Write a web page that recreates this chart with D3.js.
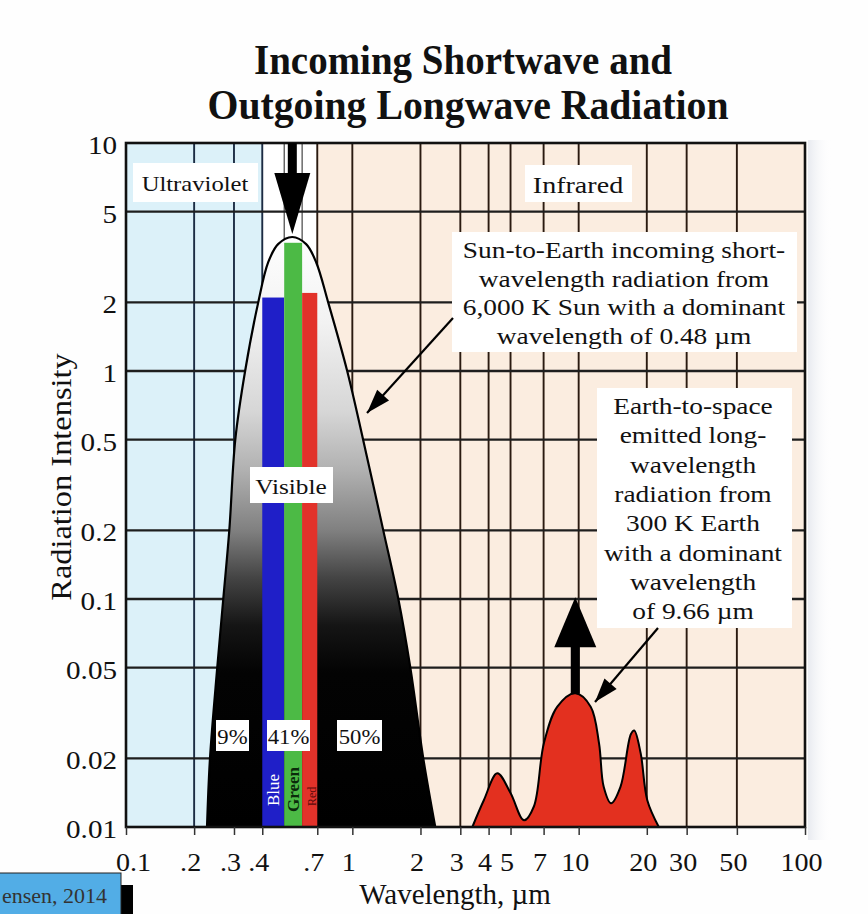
<!DOCTYPE html>
<html><head><meta charset="utf-8">
<script src="https://cdn.jsdelivr.net/npm/d3@7"></script>
<style>html,body{margin:0;padding:0;background:#fff;}svg{display:block;font-family:"Liberation Serif","Times New Roman",serif;}</style>
</head><body>
<script>
// ---- data ----
const lambdaTicks = [0.1,0.2,0.3,0.4,0.7,1,2,3,4,5,7,10,20,30,50,100];
const lambdaTickLabels = ["0.1",".2",".3",".4",".7","1","2","3","4","5","7","10","20","30","50","100"];
const gridLambda = [0.2,0.3,0.4,0.5,0.6,0.7,1,2,3,4,5,7,10,20,30,50];
const intensityTicks = [10,5,2,1,0.5,0.2,0.1,0.05,0.02,0.01];
const intensityLabels = ["10","5","2","1","0.5","0.2","0.1","0.05","0.02","0.01"];
const gridIntensity = [5,2,1,0.5,0.2,0.1,0.05,0.02];
const regionBounds = [0.1,0.4,0.7,100]; // ultraviolet | visible | infrared
const sunLambda    = [0.228,0.235,0.253,0.269,0.286,0.304,0.336,0.384,0.425,0.470,0.543,0.625,0.692,0.782,0.949,1.116,1.370,1.597,1.804,2.058,2.325];
const sunIntensity = [0.01,0.02,0.05,0.1,0.2,0.5,1,2,3,3.6,3.87,3.6,3,2,1,0.5,0.2,0.1,0.05,0.02,0.01];
const earthLambda    = [3.39,3.81,4.37,5.0,5.73,6.34,7.02,8.05,9.66,11.3,12.3,12.9,13.9,15.3,17.0,17.6,18.8,20.1,22.6];
const earthIntensity = [0.01,0.0131,0.0172,0.0141,0.0107,0.0123,0.0233,0.0337,0.0386,0.0337,0.0233,0.015,0.0127,0.015,0.0255,0.0265,0.021,0.0131,0.01];
const bandNames = ["Blue","Green","Red"];
const bandStart = [0.4,0.5,0.6];
const bandEnd   = [0.5,0.6,0.7];
const bandTop   = [2.1,3.65,2.2];
const bandShares = ["9%","41%","50%"];
const sunPeak = 0.543, earthPeak = 9.66;

// ---- drawing ----
const W = 868, H = 914;
const svg = d3.select("body").append("svg").attr("width", W).attr("height", H);
svg.append("rect").attr("width", W).attr("height", H).attr("fill", "#fefefe");

const x = d3.scaleLog().domain([0.1,100]).range([126,805]);
const y = d3.scaleLog().domain([0.01,10]).range([827,143]);

const defs = svg.append("defs");
const g1 = defs.append("linearGradient").attr("id","sunGrad").attr("gradientUnits","userSpaceOnUse")
  .attr("x1",0).attr("x2",0).attr("y1",y(4)).attr("y2",y(0.01));
[[0,"#ffffff"],[0.15,"#f2f2f2"],[0.3,"#d6d6d6"],[0.4,"#b0b0b0"],[0.5,"#808080"],[0.58,"#444"],[0.66,"#151515"],[0.74,"#030303"],[1,"#000"]]
  .forEach(([o,c]) => g1.append("stop").attr("offset",o).attr("stop-color",c));
const sg = defs.append("linearGradient").attr("id","shadow").attr("x1",0).attr("x2",1);
sg.append("stop").attr("offset",0).attr("stop-color","#e2e5ec").attr("stop-opacity",0.8);
sg.append("stop").attr("offset",1).attr("stop-color","#ffffff").attr("stop-opacity",0);
svg.append("rect").attr("x",808).attr("y",140).attr("width",24).attr("height",700).attr("fill","url(#shadow)");

// background regions
const regionColors = ["#dcf1f9","#ffffff","#fbede0"];
for (let i=0;i<regionBounds.length-1;i++){
  svg.append("rect").attr("x",x(regionBounds[i])).attr("y",y(10))
    .attr("width",x(regionBounds[i+1])-x(regionBounds[i])).attr("height",y(0.01)-y(10))
    .attr("fill",regionColors[i]);
}

// grid
const grid = svg.append("g");
grid.selectAll("line.v").data(gridLambda).join("line")
  .attr("x1",d=>x(d)).attr("x2",d=>x(d)).attr("y1",y(10)).attr("y2",y(0.01))
  .attr("stroke",d=> d<=0.4 ? "#1c2c44" : (d<0.7 ? "#333" : "#2a1a10"))
  .attr("stroke-width",d=> (d===0.5||d===0.6)?1.1:1.9);
grid.selectAll("line.h").data(gridIntensity).join("line")
  .attr("x1",x(0.1)).attr("x2",x(100)).attr("y1",d=>y(d)).attr("y2",d=>y(d))
  .attr("stroke","#1e1e1e").attr("stroke-width",2.4);

function box(x0,y0,x1,y1){ svg.append("rect").attr("x",x0).attr("y",y0).attr("width",x1-x0).attr("height",y1-y0).attr("fill","#fff"); }
box(133,163,258,202);
box(525,165,632,202);
box(452,232,797,352);
box(597,388,792,628);

// sun curve
const sunPts = sunLambda.map((l,i)=>[l,sunIntensity[i]]);
const curveS = d3.curveCatmullRom.alpha(0.5);
const area = d3.area().x(d=>x(d[0])).y0(y(0.01)).y1(d=>y(d[1])).curve(curveS);
const line = d3.line().x(d=>x(d[0])).y(d=>y(d[1])).curve(curveS);
svg.append("path").datum(sunPts).attr("d",area).attr("fill","url(#sunGrad)");

// visible bands
const bandColors = ["#1f1fc8","#4cba45","#e2322a"];
svg.selectAll("rect.band").data(bandNames).join("rect")
  .attr("x",(d,i)=>x(bandStart[i])).attr("width",(d,i)=>x(bandEnd[i])-x(bandStart[i]))
  .attr("y",(d,i)=>y(bandTop[i])).attr("height",(d,i)=>y(0.01)-y(bandTop[i]))
  .attr("fill",(d,i)=>bandColors[i]);
svg.append("path").datum(sunPts).attr("d",line).attr("fill","none").attr("stroke","#000").attr("stroke-width",2.2);

// band names (rotated)
const bandTextColors = ["#ffffff","#0b2a0b","#5a0a0a"];
const bandFont = [17,17,12];
const bandBase = [21,15,21];
bandNames.forEach((n,i)=>{
  const cx = (x(bandStart[i])+x(bandEnd[i]))/2;
  svg.append("text").attr("transform",`translate(${cx+6},${y(0.01)-bandBase[i]}) rotate(-90)`)
    .attr("font-size",bandFont[i]).attr("fill",bandTextColors[i]).attr("font-weight",i===1?"bold":"normal").text(n);
});

// earth curve
const earthPts = earthLambda.map((l,i)=>[l,earthIntensity[i]]);
const area2 = d3.area().x(d=>x(d[0])).y0(y(0.01)).y1(d=>y(d[1])).curve(d3.curveCatmullRom.alpha(0.5));
const line2 = d3.line().x(d=>x(d[0])).y(d=>y(d[1])).curve(d3.curveCatmullRom.alpha(0.5));
svg.append("path").datum(earthPts).attr("d",area2).attr("fill","#e3301f");
svg.append("path").datum(earthPts).attr("d",line2).attr("fill","none").attr("stroke","#000").attr("stroke-width",2);

// border
svg.append("rect").attr("x",x(0.1)).attr("y",y(10)).attr("width",x(100)-x(0.1)).attr("height",y(0.01)-y(10))
  .attr("fill","none").attr("stroke","#111").attr("stroke-width",2.6);

// sun big arrow (down)
{
  const ax = x(sunPeak), tip = y(d3.max(sunIntensity))-3;
  svg.append("rect").attr("x",ax-4.5).attr("y",y(10)).attr("width",9).attr("height",40).attr("fill","#000");
  svg.append("path").attr("d",`M${ax-18},${y(10)+30} L${ax+18},${y(10)+30} L${ax},${tip} Z`).attr("fill","#000");
}
// earth big arrow (up)
{
  const ax = x(earthPeak), base = y(d3.max(earthIntensity));
  svg.append("rect").attr("x",ax-4.5).attr("y",base-52).attr("width",9).attr("height",52).attr("fill","#000");
  svg.append("path").attr("d",`M${ax-21},${base-46} L${ax+21},${base-46} L${ax},${base-96} Z`).attr("fill","#000");
}

// leader arrows
function leader(x0,y0,x1,y1){
  svg.append("line").attr("x1",x0).attr("y1",y0).attr("x2",x1).attr("y2",y1).attr("stroke","#000").attr("stroke-width",2.2);
  const a = Math.atan2(y1-y0,x1-x0), L=24, Wd=8;
  const bx = x1-L*Math.cos(a), by = y1-L*Math.sin(a);
  const px = -Math.sin(a)*Wd, py = Math.cos(a)*Wd;
  svg.append("path").attr("d",`M${x1},${y1} L${bx+px},${by+py} L${bx-px},${by-py} Z`).attr("fill","#000");
}
leader(453,318,367,413);
leader(658,628,595,702);

// texts
function stretch(e, f){
  const len = e.node().getComputedTextLength();
  e.attr("textLength", len*f).attr("lengthAdjust","spacingAndGlyphs");
  return e;
}
function txt(t,xx,yy,size,opts={}){
  const e = svg.append("text").attr("x",xx).attr("y",yy).attr("font-size",size)
    .attr("text-anchor",opts.anchor||"middle").attr("fill",opts.fill||"#111").text(t);
  if(opts.weight) e.attr("font-weight",opts.weight);
  if(opts.len) e.attr("textLength",opts.len).attr("lengthAdjust","spacingAndGlyphs");
  if(opts.f) stretch(e, opts.f);
  return e;
}
txt("Ultraviolet",195,191,22,{f:1.12});
txt("Infrared",578,193,23,{f:1.22});
["Sun-to-Earth incoming short-","wavelength radiation from","6,000 K Sun with a dominant","wavelength of 0.48 µm"]
  .forEach((t,i)=>txt(t,624,258+i*28.6,23,{f:1.19}));
["Earth-to-space","emitted long-","wavelength","radiation from","300 K Earth","with a dominant","wavelength","of 9.66 µm"]
  .forEach((t,i)=>txt(t,693,414+i*29.3,23,{f:1.19}));

box(250,467,333,503);
txt("Visible",291,494,22,{f:1.15});

const shareBoxes = [[216,249],[267,310],[337,382]];
bandShares.forEach((s,i)=>{
  const [a,b] = shareBoxes[i];
  svg.append("rect").attr("x",a).attr("y",720).attr("width",b-a).attr("height",31).attr("fill","#fff");
  txt(s,(a+b)/2,744,21,{f:1.08});
});

// title
txt("Incoming Shortwave and",463,74,42,{weight:"bold",len:418});
txt("Outgoing Longwave Radiation",468,119,42,{weight:"bold",len:521});

// axes
const xAxis = d3.axisBottom(x).tickValues(lambdaTicks).tickFormat((d,i)=>lambdaTickLabels[i]).tickSize(8).tickPadding(18);
const gx = svg.append("g").attr("transform",`translate(0,${y(0.01)})`).call(xAxis);
gx.select(".domain").remove();
gx.selectAll(".tick line").attr("stroke","#333").attr("stroke-width",1.5);
gx.selectAll(".tick text").attr("font-size",26).attr("font-family","Liberation Serif").attr("fill","#111")
  .attr("dx",(d,i)=> i===0 ? 7 : -4).each(function(){ stretch(d3.select(this),1.08); });

const yAxis = d3.axisLeft(y).tickValues(intensityTicks).tickFormat((d,i)=>intensityLabels[i]).tickSize(0).tickPadding(9);
const gy = svg.append("g").attr("transform",`translate(${x(0.1)},0)`).call(yAxis);
gy.select(".domain").remove();
gy.selectAll(".tick text").attr("font-size",26).attr("font-family","Liberation Serif").attr("fill","#111").attr("dy","0.4em")
  .each(function(){ stretch(d3.select(this),1.12); });

txt("Wavelength, µm",455,904,29);
const yl = svg.append("text").attr("transform","translate(71,477) rotate(-90)").attr("text-anchor","middle")
  .attr("font-size",30).attr("fill","#111").text("Radiation Intensity");
stretch(yl,1.08);

// credit box
svg.append("rect").attr("x",120).attr("y",885).attr("width",13).attr("height",29).attr("fill","#000");
svg.append("rect").attr("x",-2).attr("y",873).attr("width",123).attr("height",43).attr("fill","#52ade6").attr("stroke","#222").attr("stroke-width",1);
txt("ensen, 2014",2,903,22,{anchor:"start",fill:"#333"});
</script>
</body></html>
